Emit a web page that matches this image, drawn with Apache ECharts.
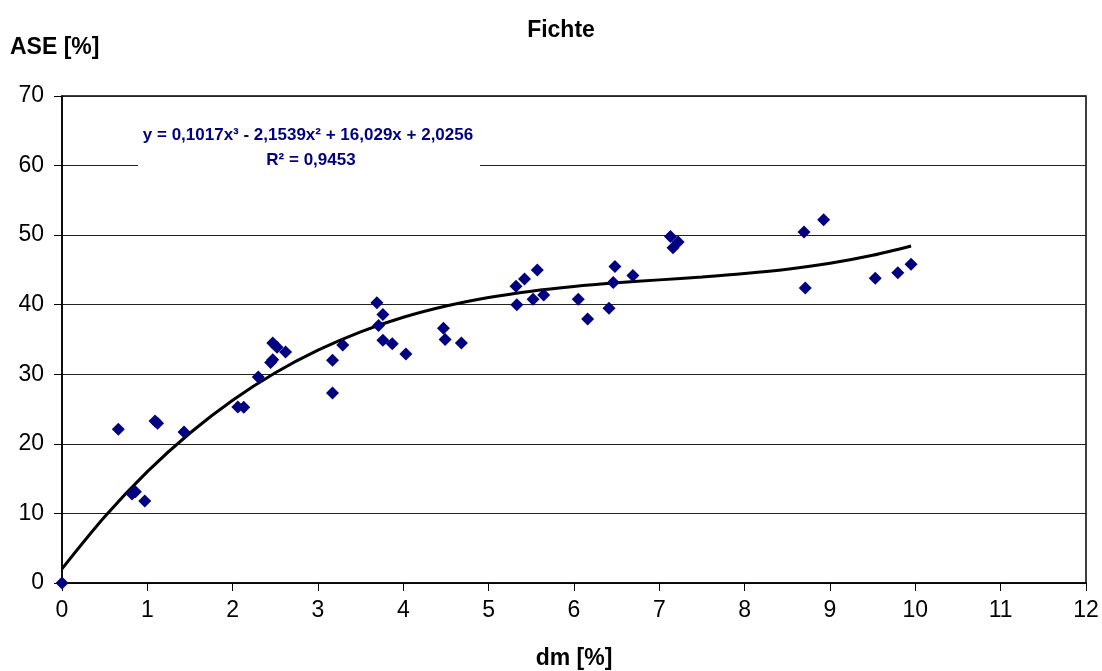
<!DOCTYPE html>
<html>
<head>
<meta charset="utf-8">
<script src="https://cdn.jsdelivr.net/npm/echarts@6/dist/echarts.min.js"></script>
<style>html,body{margin:0;padding:0;background:#fff}#c{width:1102px;height:671px}</style>
</head>
<body>
<div id="c"></div>
<script>
// measured data (dm [%], ASE [%])
var dmValues  = [0, 0.66, 0.82, 0.86, 0.97, 1.09, 1.12, 1.43, 2.06, 2.13, 2.30, 2.445, 2.47, 2.47, 2.52, 2.62, 3.17, 3.17, 3.29, 3.69, 3.71, 3.76, 3.76, 3.87, 4.03, 4.47, 4.49, 4.68, 5.32, 5.33, 5.42, 5.52, 5.57, 5.645, 6.05, 6.16, 6.41, 6.46, 6.48, 6.69, 7.13, 7.16, 7.22, 8.695, 8.71, 8.925, 9.53, 9.795, 9.95];
var aseValues = [0, 22.1, 12.8, 13.1, 11.8, 23.3, 22.95, 21.7, 25.3, 25.25, 29.6, 31.7, 32.1, 34.5, 33.9, 33.2, 32.0, 27.3, 34.2, 40.3, 37.0, 38.6, 34.9, 34.4, 32.9, 36.6, 35.0, 34.5, 42.65, 40.0, 43.7, 40.8, 45.0, 41.4, 40.8, 37.95, 39.5, 43.2, 45.5, 44.2, 49.8, 48.2, 49.0, 50.45, 42.4, 52.2, 43.8, 44.6, 45.8];
// trend curve
var trendX = [0, 0.5, 1, 1.5, 2, 2.5, 3, 3.5, 4, 4.5, 5, 5.5, 6, 6.5, 7, 7.5, 8, 8.5, 9, 9.5, 9.95];
var trendY = [2.03, 9.51, 16.0, 21.56, 26.28, 30.22, 33.47, 36.10, 38.19, 39.81, 41.04, 41.95, 42.62, 43.14, 43.57, 43.99, 44.48, 45.10, 45.96, 47.11, 48.45];
var xTicks = [0,1,2,3,4,5,6,7,8,9,10,11,12];
var yTicks = [0,10,20,30,40,50,60,70];
var titleText = 'Fichte';
var yName = 'ASE [%]';
var xName = 'dm [%]';
var eqLine1 = 'y = 0,1017x³ - 2,1539x² + 16,029x + 2,0256';
var eqLine2 = 'R² = 0,9453';

var FONT = '"Liberation Sans", Arial, sans-serif';
var chart = echarts.init(document.getElementById('c'), null, {renderer: 'canvas'});
var scatterData = dmValues.map(function (x, i) { return [x, aseValues[i]]; });
var trendData = trendX.map(function (x, i) { return [x, trendY[i]]; });

chart.setOption({
  animation: false,
  backgroundColor: '#fff',
  title: {
    text: titleText, left: 556, top: 14, textAlign: 'center',
    textStyle: {fontFamily: FONT, fontWeight: 'bold', fontSize: 23, color: '#000'}
  },
  grid: {left: 62, right: 16, top: 96, bottom: 88, show: true, borderColor: '#000', borderWidth: 1.5,
         backgroundColor: '#fff', containLabel: false, outerBoundsMode: 'none'},
  xAxis: {
    type: 'value', min: xTicks[0], max: xTicks[xTicks.length - 1], interval: 1,
    name: xName, nameLocation: 'middle', nameGap: 64,
    nameTextStyle: {fontFamily: FONT, fontWeight: 'bold', fontSize: 23, color: '#000'},
    axisLine: {show: true, lineStyle: {color: '#000', width: 1.5}},
    axisTick: {show: true, length: 8, lineStyle: {color: '#000'}},
    axisLabel: {fontFamily: FONT, fontSize: 23, color: '#000', margin: 16},
    splitLine: {show: false}
  },
  yAxis: {
    type: 'value', min: yTicks[0], max: yTicks[yTicks.length - 1], interval: 10,
    axisLine: {show: true, lineStyle: {color: '#000', width: 1.5}},
    axisTick: {show: true, length: 8, lineStyle: {color: '#000'}},
    axisLabel: {fontFamily: FONT, fontSize: 23, color: '#000', margin: 18},
    splitLine: {show: true, lineStyle: {color: '#222', width: 1}}
  },
  graphic: [
    {type: 'text', left: 10, top: 36,
     style: {text: yName, font: 'bold 23px ' + FONT, fill: '#000'}},
    {type: 'rect', shape: {x: 138, y: 124, width: 342, height: 56}, style: {fill: '#fff'}, z: 10},
    {type: 'text', z: 11, x: 308, y: 127,
     style: {text: eqLine1, font: 'bold 17px ' + FONT, fill: '#000080', textAlign: 'center'}},
    {type: 'text', z: 11, x: 311, y: 152,
     style: {text: eqLine2, font: 'bold 17px ' + FONT, fill: '#000080', textAlign: 'center'}}
  ],
  series: [
    {
      type: 'line', data: trendData, smooth: 0.3, showSymbol: false, symbol: 'none',
      lineStyle: {color: '#000', width: 3}, z: 2, clip: false
    },
    {
      type: 'scatter', data: scatterData, symbol: 'diamond', symbolSize: 13,
      itemStyle: {color: '#000080', opacity: 1}, z: 3, clip: false
    }
  ]
});
</script>
</body>
</html>
